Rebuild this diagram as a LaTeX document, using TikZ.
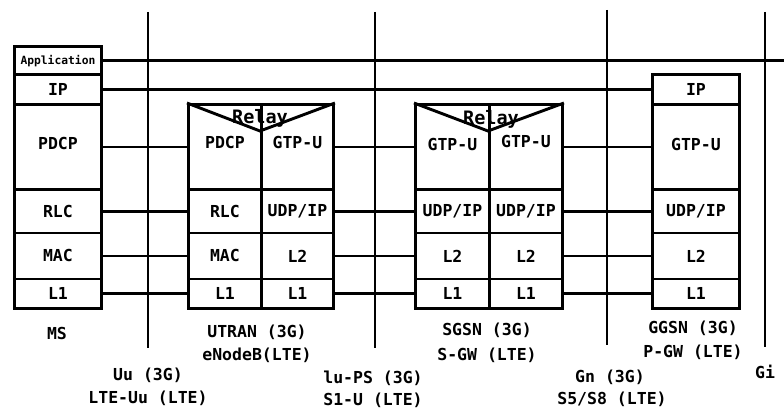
\documentclass[tikz,border=0pt]{standalone}
\usepackage{fontspec}
\setmainfont{DejaVu Sans Mono}
\begin{document}
\begin{tikzpicture}[x=1pt,y=-1pt,line width=2.9pt,
  layer/.style={draw, line width=2.9pt, inner sep=0pt, anchor=north west, font=\fontsize{16.5}{18}\selectfont\bfseries},
  lbl/.style={inner sep=0pt, font=\fontsize{16.5}{18}\selectfont\bfseries}]

\useasboundingbox (0,0) rectangle (784,409);

% MS
\node[layer, minimum width=87, minimum height=28.5, font=\fontsize{11.3}{12}\selectfont\bfseries] (msapp) at (13,45) {Application};
\node[layer, minimum width=87, minimum height=29.5] (msip) at (13,73.5) {IP};
\node[layer, minimum width=87, minimum height=85] (mspdcp) at (13,103) {};
\node[layer, minimum width=87, minimum height=43.5] (msrlc) at (13,188) {RLC};
\node[layer, minimum width=87, minimum height=46] (msmac) at (13,231.5) {MAC};
\node[layer, minimum width=87, minimum height=29.5] (msl1) at (13,277.5) {L1};
\node[lbl] at ([yshift=3pt]mspdcp.center) {PDCP};

% UTRAN / eNodeB
\node[layer, minimum width=73, minimum height=85] (utpdcp) at (187,103) {};
\node[layer, minimum width=72, minimum height=85] (utgtp) at (260,103) {};
\node[layer, minimum width=73, minimum height=43.5] (utrlc) at (187,188) {RLC};
\node[layer, minimum width=72, minimum height=43.5] (utudp) at (260,188) {UDP/IP};
\node[layer, minimum width=73, minimum height=46] (utmac) at (187,231.5) {MAC};
\node[layer, minimum width=72, minimum height=46] (utl2) at (260,231.5) {L2};
\node[layer, minimum width=73, minimum height=29.5] (utl1a) at (187,277.5) {L1};
\node[layer, minimum width=72, minimum height=29.5] (utl1b) at (260,277.5) {L1};
\node[lbl] at ([yshift=4.5pt]utpdcp.center) {PDCP};
\node[lbl] at ([yshift=4.5pt]utgtp.center) {GTP-U};
\coordinate (utv) at (260,131);
\draw (utpdcp.north west) -- (utv) -- (utgtp.north east);
\node[lbl, font=\fontsize{18.5}{20}\selectfont\bfseries] at (260,118) {Relay};

% SGSN / S-GW
\node[layer, minimum width=74, minimum height=85] (sggtpa) at (414,103) {};
\node[layer, minimum width=73, minimum height=85] (sggtpb) at (488,103) {};
\node[layer, minimum width=74, minimum height=43.5] (sgudpa) at (414,188) {UDP/IP};
\node[layer, minimum width=73, minimum height=43.5] (sgudpb) at (488,188) {UDP/IP};
\node[layer, minimum width=74, minimum height=46] (sgl2a) at (414,231.5) {L2};
\node[layer, minimum width=73, minimum height=46] (sgl2b) at (488,231.5) {L2};
\node[layer, minimum width=74, minimum height=29.5] (sgl1a) at (414,277.5) {L1};
\node[layer, minimum width=73, minimum height=29.5] (sgl1b) at (488,277.5) {L1};
\node[lbl] at ([yshift=2.5pt]sggtpa.center) {GTP-U};
\node[lbl] at ([yshift=5.5pt]sggtpb.center) {GTP-U};
\coordinate (sgv) at (488,131);
\draw (sggtpa.north west) -- (sgv) -- (sggtpb.north east);
\node[lbl, font=\fontsize{18.5}{20}\selectfont\bfseries] at (491,119) {Relay};

% GGSN / P-GW
\node[layer, minimum width=87, minimum height=29.5] (ggip) at (651,73.5) {IP};
\node[layer, minimum width=87, minimum height=85] (gggtp) at (651,103) {};
\node[layer, minimum width=87, minimum height=43.5] (ggudp) at (651,188) {UDP/IP};
\node[layer, minimum width=87, minimum height=46] (ggl2) at (651,231.5) {L2};
\node[layer, minimum width=87, minimum height=29.5] (ggl1) at (651,277.5) {L1};
\node[lbl] at ([yshift=2.5pt]gggtp.center) {GTP-U};

% interfaces
\coordinate (uutop) at (148,12);  \coordinate (uubot) at (148,348);
\coordinate (iutop) at (375,12);  \coordinate (iubot) at (375,348);
\coordinate (gntop) at (607,10);  \coordinate (gnbot) at (607,345);
\coordinate (gitop) at (765,12);  \coordinate (gibot) at (765,347);
\coordinate (append) at (784,0);
\draw (uutop) -- (uubot);
\draw (iutop) -- (iubot);
\draw (gntop) -- (gnbot);
\draw (gitop) -- (gibot);

% peer links
\draw (msapp.east) -- (msapp.east -| append);
\draw (msip.east) -- (ggip.west);
\draw (mspdcp.east) -- (utpdcp.west);
\draw (msrlc.east) -- (utrlc.west);
\draw (msmac.east) -- (utmac.west);
\draw (msl1.east) -- (utl1a.west);
\draw (utgtp.east) -- (sggtpa.west);
\draw (utudp.east) -- (sgudpa.west);
\draw (utl2.east) -- (sgl2a.west);
\draw (utl1b.east) -- (sgl1a.west);
\draw (sggtpb.east) -- (gggtp.west);
\draw (sgudpb.east) -- (ggudp.west);
\draw (sgl2b.east) -- (ggl2.west);
\draw (sgl1b.east) -- (ggl1.west);

% names
\node[lbl] (msname) at (57,333) {MS};
\node[lbl] (utname) at (257,332) {UTRAN (3G)};
\node[lbl] (utname2) at (257,355) {eNodeB(LTE)};
\node[lbl] (sgname) at (487,330) {SGSN (3G)};
\node[lbl] (sgname2) at (487,355) {S-GW (LTE)};
\node[lbl] (ggname) at (693,328) {GGSN (3G)};
\node[lbl] (ggname2) at (693,352) {P-GW (LTE)};
\node[lbl] (uuname) at (148,375) {Uu (3G)};
\node[lbl] (uuname2) at (148,398) {LTE-Uu (LTE)};
\node[lbl] (iuname) at (373,378) {lu-PS (3G)};
\node[lbl] (iuname2) at (373,400) {S1-U (LTE)};
\node[lbl] (gnname) at (610,377) {Gn (3G)};
\node[lbl] (gnname2) at (612,399) {S5/S8 (LTE)};
\node[lbl] (giname) at (765,372) {Gi};

\end{tikzpicture}
\end{document}
